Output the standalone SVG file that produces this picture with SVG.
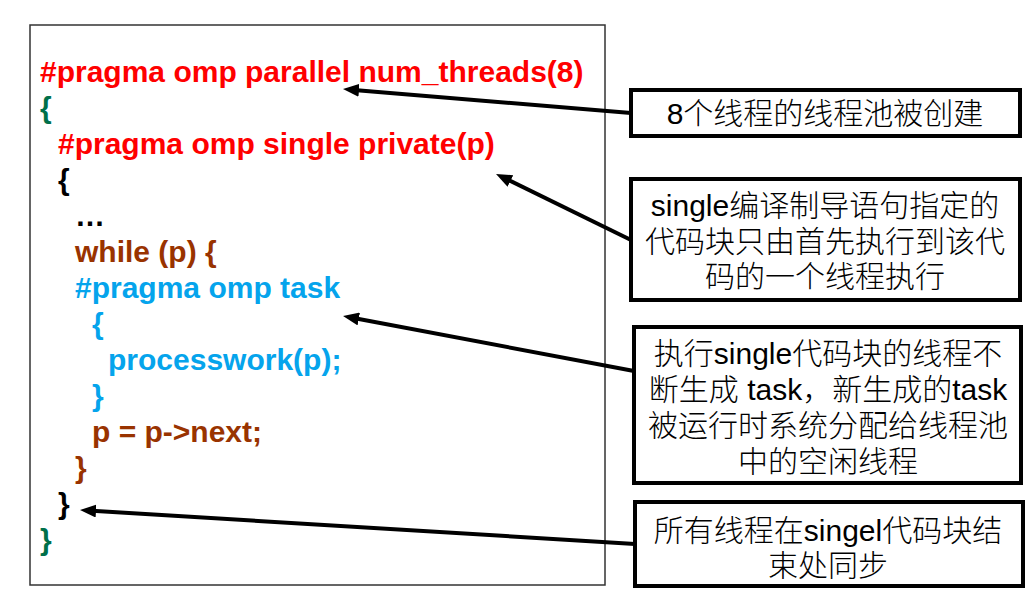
<svg xmlns="http://www.w3.org/2000/svg" width="1035" height="598" viewBox="0 0 1035 598">
<style>
  .code { font-family: "Liberation Sans", Arial, sans-serif; font-weight: bold; font-size: 30px; }
  .red { fill: #FF0000; }
  .green { fill: #00704A; }
  .black { fill: #000000; }
  .brown { fill: #993300; }
  .cyan { fill: #05A4EC; }
  .note rect { fill: #FFFFFF; stroke: #000000; stroke-width: 4; }
  .note text { font-family: "Liberation Sans", "Noto Sans CJK SC", sans-serif; font-size: 30px; font-weight: 300; fill: #000000; text-anchor: middle; }
  .conn line { stroke: #000000; stroke-width: 4; fill: none; marker-end: url(#arrow); }
</style>
<defs>
  <marker id="arrow" markerUnits="userSpaceOnUse" markerWidth="16" markerHeight="13" refX="8" refY="6.5" orient="auto">
    <path d="M0,0 L16,6.5 L0,13 z" fill="#000000"/>
  </marker>
</defs>
<rect width="1035" height="598" fill="#FFFFFF"/>
<g id="code">
  <rect x="30" y="25" width="575" height="560" fill="#FFFFFF" stroke="#333333" stroke-width="1.5"/>
  <text class="code red" x="40" y="82">#pragma omp parallel num_threads(8)</text>
  <text class="code green" x="40" y="118">{</text>
  <text class="code red" x="58" y="154">#pragma omp single private(p)</text>
  <text class="code black" x="58" y="190">{</text>
  <text class="code black" x="75" y="226">…</text>
  <text class="code brown" x="75" y="262">while (p) {</text>
  <text class="code cyan" x="75" y="298">#pragma omp task</text>
  <text class="code cyan" x="92" y="334">{</text>
  <text class="code cyan" x="108" y="370">processwork(p);</text>
  <text class="code cyan" x="92" y="406">}</text>
  <text class="code brown" x="92" y="442">p = p-&gt;next;</text>
  <text class="code brown" x="75" y="478">}</text>
  <text class="code black" x="58" y="514">}</text>
  <text class="code green" x="40" y="550">}</text>
</g>
<g id="note1" class="note">
  <rect x="631" y="90" width="389" height="46"/>
  <text x="825" y="124">8个线程的线程池被创建</text>
</g>
<g id="note2" class="note">
  <rect x="631" y="179" width="389" height="121"/>
  <text x="825" y="216">single编译制导语句指定的</text>
  <text x="825" y="252">代码块只由首先执行到该代</text>
  <text x="825" y="287">码的一个线程执行</text>
</g>
<g id="note3" class="note">
  <rect x="634" y="327" width="387" height="156"/>
  <text x="828" y="364">执行single代码块的线程不</text>
  <text x="828" y="400">断生成 task，新生成的task</text>
  <text x="828" y="436">被运行时系统分配给线程池</text>
  <text x="828" y="472">中的空闲线程</text>
</g>
<g id="note4" class="note">
  <rect x="635" y="502" width="388" height="84"/>
  <text x="828" y="541">所有线程在singel代码块结</text>
  <text x="828" y="576">束处同步</text>
</g>
<g id="connectors" class="conn">
  <line x1="631" y1="113" x2="351" y2="89.7"/>
  <line x1="631" y1="240" x2="503.2" y2="177.5"/>
  <line x1="634" y1="371" x2="350.9" y2="317.5"/>
  <line x1="635" y1="544" x2="88" y2="510.5"/>
</g>
</svg>
